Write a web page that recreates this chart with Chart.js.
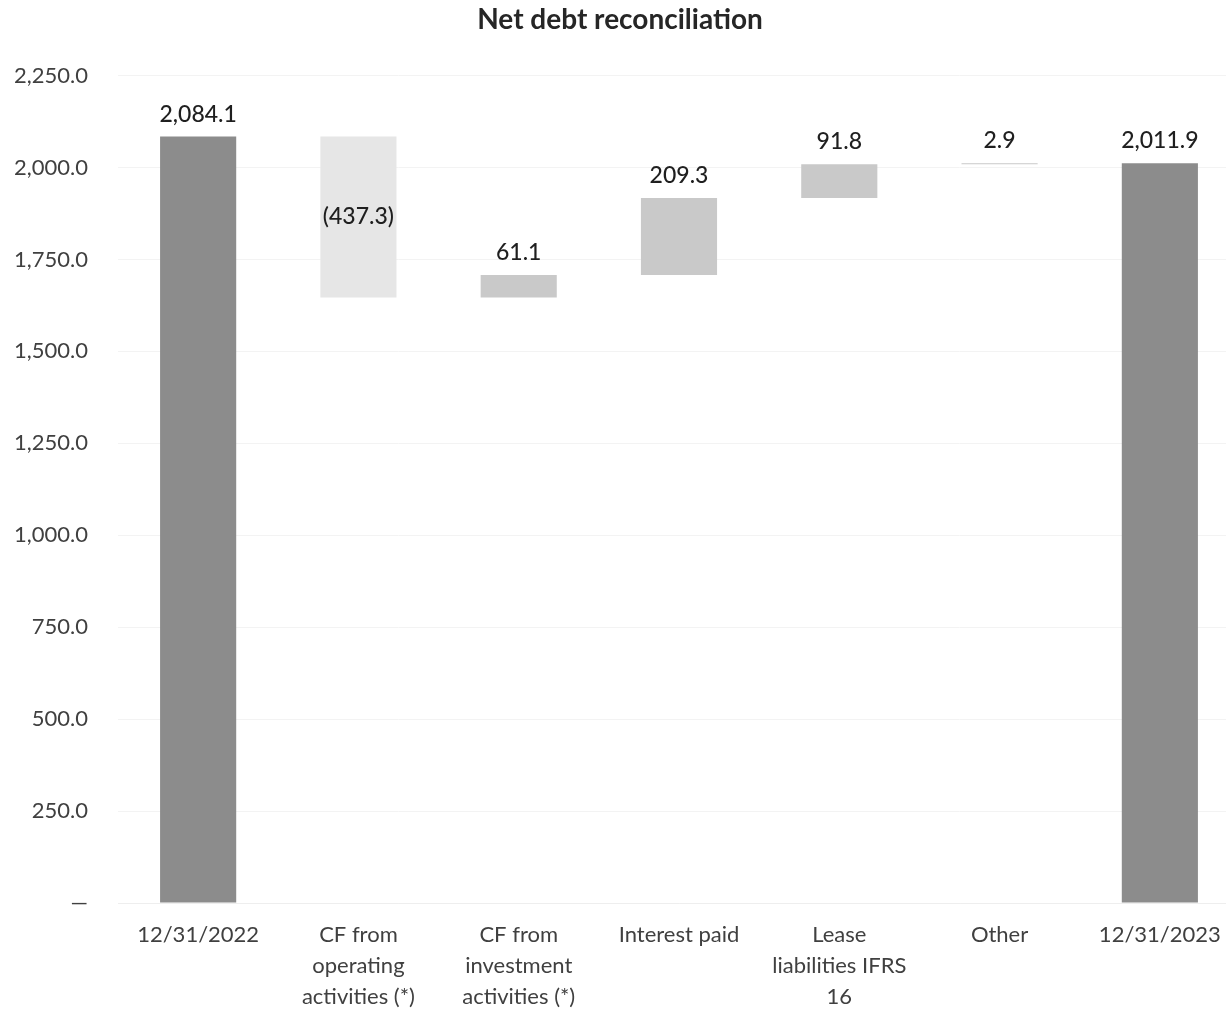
<!DOCTYPE html>
<html>
<head>
<meta charset="utf-8">
<script src="https://cdn.jsdelivr.net/npm/chart.js@4"></script>
<style>
  html, body { margin: 0; padding: 0; background: #fff; }
  #wrap { width: 1226px; height: 1013px; overflow: hidden; }
</style>
</head>
<body>
<div id="wrap"><canvas id="debtChart" width="1240" height="1013"></canvas></div>
<script>
const categories = [
    ['12/31/2022'],
    ['CF from', 'operating', 'activities (*)'],
    ['CF from', 'investment', 'activities (*)'],
    ['Interest paid'],
    ['Lease', 'liabilities IFRS', '16'],
    ['Other'],
    ['12/31/2023']
];
// first and last are totals, the rest are changes
const startTotal = 2084.1;
const changes = [-437.3, 61.1, 209.3, 91.8, 2.9];
const endTotal = 2011.9;
const yTicks = [0, 250, 500, 750, 1000, 1250, 1500, 1750, 2000, 2250];

const barColors = ['#8c8c8c', '#e6e6e6', '#c9c9c9', '#c9c9c9', '#c9c9c9', '#c9c9c9', '#8c8c8c'];

// build floating bars
const ranges = [[0, startTotal]];
const labelValues = [startTotal];
let running = startTotal;
changes.forEach(function(c) {
    const next = running + c;
    ranges.push([Math.min(running, next), Math.max(running, next)]);
    labelValues.push(c);
    running = next;
});
ranges.push([0, endTotal]);
labelValues.push(endTotal);

function fmt(v) {
    const s = Math.abs(v).toLocaleString('en-US', { minimumFractionDigits: 1, maximumFractionDigits: 1 });
    return v < 0 ? '(' + s + ')' : s;
}

const barLabels = {
    id: 'barLabels',
    afterDatasetsDraw(chart) {
        const ctx = chart.ctx;
        const meta = chart.getDatasetMeta(0);
        ctx.save();
        ctx.font = '500 23px Lato, sans-serif';
        ctx.fillStyle = '#1f1f1f';
        ctx.textAlign = 'center';
        meta.data.forEach(function(bar, i) {
            const v = labelValues[i];
            const top = Math.min(bar.y, bar.base);
            const bottom = Math.max(bar.y, bar.base);
            if (v < 0) {
                ctx.textBaseline = 'middle';
                ctx.fillText(fmt(v), bar.x, (top + bottom) / 2);
            } else {
                ctx.textBaseline = 'bottom';
                ctx.fillText(fmt(v), bar.x, top - 11);
            }
        });
        ctx.restore();
    }
};

new Chart(document.getElementById('debtChart'), {
    type: 'bar',
    data: {
        labels: categories,
        datasets: [{
            data: ranges,
            backgroundColor: barColors,
            borderWidth: 0,
            barPercentage: 0.95,
            categoryPercentage: 0.5
        }]
    },
    options: {
        responsive: false,
        animation: false,
        layout: { padding: 0 },
        plugins: {
            legend: { display: false },
            tooltip: { enabled: false },
            title: {
                display: true,
                text: 'Net debt reconciliation',
                color: '#262626',
                font: { family: 'Lato, sans-serif', size: 28, weight: 'bold' },
                padding: { top: 3, bottom: 39 }
            }
        },
        scales: {
            x: {
                grid: { display: false },
                border: { color: '#eeeeee' },
                afterFit: function(axis) { axis.height = 110; },
                ticks: {
                    color: '#404040',
                    font: { family: 'Lato, sans-serif', size: 22, lineHeight: 1.42 },
                    maxRotation: 0,
                    autoSkip: false,
                    padding: 8
                }
            },
            y: {
                min: 0,
                max: 2250,
                afterBuildTicks: function(axis) {
                    axis.ticks = yTicks.map(function(v) { return { value: v }; });
                },
                afterFit: function(axis) { axis.width = 118; },
                grid: { color: '#f3f3f3', drawTicks: false },
                border: { display: false },
                ticks: {
                    color: '#404040',
                    font: { family: 'Lato, sans-serif', size: 22 },
                    padding: 30,
                    callback: function(v) {
                        return v === 0 ? '—' : v.toLocaleString('en-US', { minimumFractionDigits: 1, maximumFractionDigits: 1 });
                    }
                }
            }
        }
    },
    plugins: [barLabels]
});
</script>
</body>
</html>
